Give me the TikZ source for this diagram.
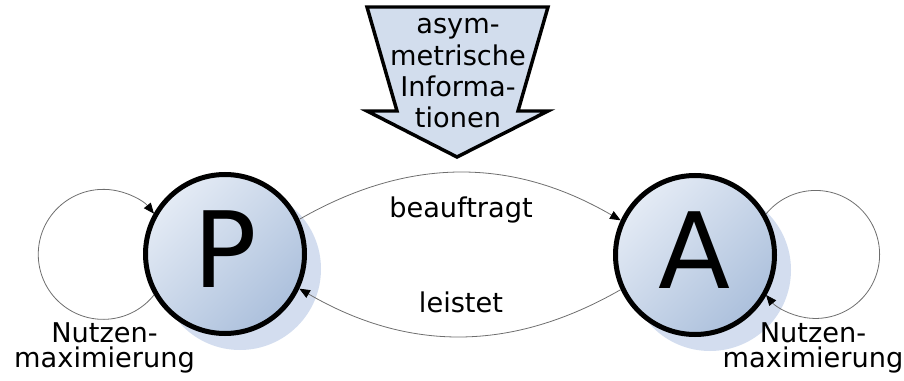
\documentclass[tikz,border=0pt]{standalone}
\usepackage{fontspec}
\setmainfont{DejaVu Sans}
\usetikzlibrary{arrows.meta}
\definecolor{arrfill}{HTML}{D2DDED}
\definecolor{shadowc}{HTML}{D3DDEF}
\definecolor{lightc}{HTML}{E4EBF5}
\definecolor{darkc}{HTML}{ACC0DC}
\definecolor{conngray}{HTML}{6E6E6E}
\begin{document}
\begin{tikzpicture}[x=0.75pt,y=0.75pt,
  state/.style={circle, draw=black, line width=3.75pt, minimum size=119.25pt, inner sep=0pt,
    top color=lightc, bottom color=darkc, shading angle=45, font=\fontsize{79}{79}\selectfont},
  conn/.style={draw=conngray, line width=0.6pt, -{Triangle[length=8pt,width=6.5pt,color=black]}},
  lbl/.style={font=\fontsize{20.4}{24}\selectfont, text=black}
]
\useasboundingbox (0,0) rectangle (904,-381);
% shadows
\fill[shadowc] (240,-269) circle[radius=81];
\fill[shadowc] (710,-270) circle[radius=81];
% states
\node[state] (P) at (225,-254) {\raisebox{7pt}{P}};
\node[state] (A) at (695,-255) {\raisebox{7pt}{A}};
% top block arrow
\draw[line width=2.6pt, fill=arrfill, line join=miter]
  (367,-7) -- (548,-7) -- (518,-111) -- (548,-111) -- (457,-157) -- (367,-111) -- (397,-111) -- cycle;
\node[lbl, align=center, anchor=base, font=\fontsize{20.4}{23.6}\selectfont] (info) at (458,-128)
  {asym-\\metrische\\Informa-\\tionen};
% connectors
\draw[conn] (P.25) to[bend left=30] (A.155);
\draw[conn] (A.205) to[bend left=30] (P.-25);
\draw[conn] (P.210) arc[start angle=-38.7, end angle=-321.3, radius=65];
\draw[conn] (A.30) arc[start angle=140.8, end angle=-140.8, radius=64];
% labels
\node[lbl, anchor=base] (beauf) at (461,-218) {beauftragt};
\node[lbl, anchor=base] (leist) at (461,-312) {leistet};
\node[lbl, align=center, anchor=base, font=\fontsize{20.4}{19.5}\selectfont] (nl) at (104.5,-368) {Nutzen-\\maximierung};
\node[lbl, align=center, anchor=base, font=\fontsize{20.4}{19.5}\selectfont] (nr) at (813,-368) {Nutzen-\\maximierung};
\end{tikzpicture}
\end{document}
